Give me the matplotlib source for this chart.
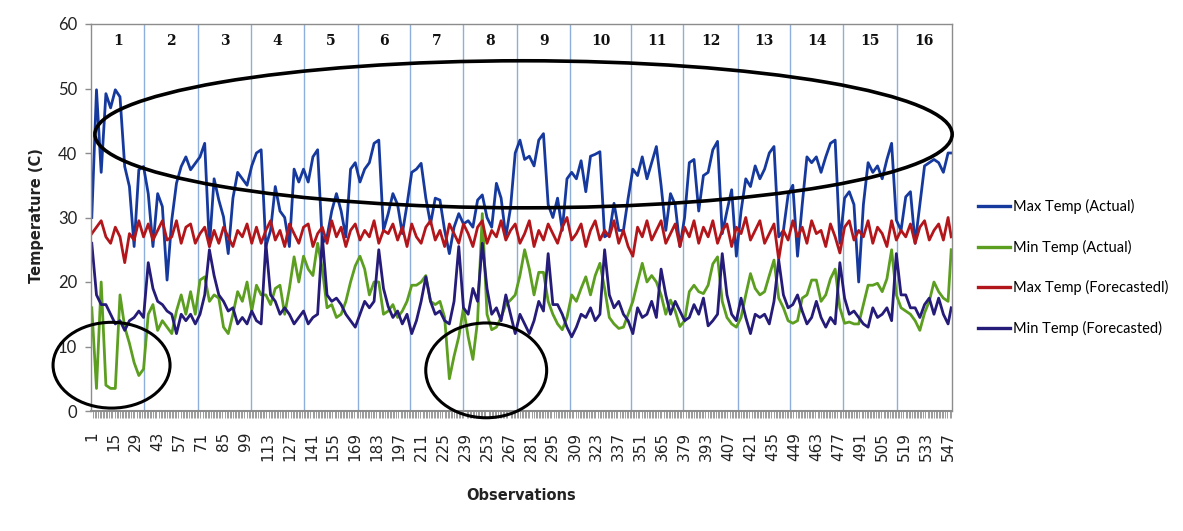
import numpy as np
import matplotlib
matplotlib.use("Agg")
import matplotlib.pyplot as plt
from matplotlib.patches import Ellipse
from matplotlib.lines import Line2D

obs = list(range(1, 548, 3)) + [549]

max_actual = [
    30, 49.8, 37, 49.2, 47, 49.8, 48.7, 37.9, 34.8, 25.5,
    37.4, 37.9, 33.7, 25.5, 33.7, 31.7, 20.3, 29.6, 35.3, 37.9,
    39.4, 37.4, 38.4, 39.4, 41.5, 25.5, 36, 32.7, 30.1, 24.4,
    33, 37, 36, 35, 38, 40, 40.5, 25.5, 28, 34.8,
    31, 30, 25.5, 37.5, 35.5, 37.5, 35.5, 39.4, 40.5, 26,
    27, 31, 33.7, 31, 27, 37.5, 38.5, 35.5, 37.5, 38.5,
    41.5, 42, 28, 30.6, 33.7, 32, 27.5, 32, 37, 37.5,
    38.4, 33, 29, 33, 32.7, 28, 24.4, 28.5, 30.6, 29,
    29.5, 28.5, 32.7, 33.5, 30, 28.5, 35.3, 33, 27, 31.5,
    40, 42, 39, 39.5, 38, 42, 43, 32, 30, 33,
    28, 36, 37, 36, 38.8, 34, 39.5, 39.8, 40.2, 27,
    27.5, 32.2, 28, 28, 33, 37.5, 36.5, 39.4, 36, 38.5,
    41, 35, 28, 33.7, 32, 25.5, 30, 38.5, 39, 31,
    36.5, 37, 40.5, 41.8, 27.5, 31, 34.3, 24, 31, 36,
    34.8, 38, 36, 37.5, 40, 41, 27, 28, 33.5, 35,
    24, 32, 39.4, 38.5, 39.4, 37, 39.4, 41.5, 42, 26,
    33, 34, 32, 20, 32, 38.5, 37, 38, 36, 39,
    41.5, 29.6, 28, 33.2, 34, 26, 32, 38, 38.5, 39,
    38.5, 37, 40, 40,
]

min_actual = [
    16, 3.5, 20, 4, 3.5, 3.5, 18, 13, 10.5, 7.5,
    5.5, 6.5, 15, 16.5, 12.5, 14, 13, 12, 15.5, 18,
    15, 18.5, 15, 20.3, 20.8, 17, 18, 17.5, 13, 12,
    15, 18.5, 17, 20, 15.5, 19.5, 18, 18, 16.5, 19,
    19.5, 15, 19, 23.9, 20, 24, 22, 21, 26, 22,
    16, 16.5, 14.5, 15, 17, 20, 22.5, 24, 22, 18,
    20, 20, 15, 15.5, 16.5, 14.5, 15.5, 17, 19.5, 19.5,
    20, 21, 17, 16.5, 17, 14.5, 5, 8.5, 11.5, 16,
    11.5, 8, 14, 30.6, 15, 12.6, 13, 14.5, 16.5, 17.2,
    18, 21, 25, 22, 18, 21.5, 21.5, 17, 15, 13.5,
    12.6, 14.5, 18, 17, 19, 20.8, 18, 21, 22.9, 19,
    14.5, 13.5, 12.8, 13, 15, 17, 20, 22.9, 20, 21,
    20, 18, 15, 17.2, 15.5, 13.1, 14, 18.5, 19.5, 18.5,
    18.2, 19.5, 22.8, 23.9, 17, 14.5, 13.5, 13, 14.5, 18,
    21.3, 19, 18, 18.5, 21, 23.4, 17.5, 16, 14, 13.6,
    14, 17.5, 18, 20.3, 20.3, 17, 18, 20.5, 22, 16,
    13.6, 13.8, 13.5, 13.5, 16.5, 19.5, 19.5, 19.8, 18.5, 20.5,
    25, 18, 16, 15.5, 15, 14, 12.5, 15.2, 17, 20,
    18.5, 17.5, 17, 25,
]

max_forecast = [
    27.5, 28.5, 29.5, 27, 26, 28.5, 27, 23, 27.5, 26.5,
    29.5, 27, 29, 26.5, 28, 29.5, 26.5, 27, 29.5, 26,
    28.5, 29, 26, 27.5, 28.5, 25.5, 28, 26, 28.5, 27,
    25.5, 28, 27, 29, 26, 28.5, 26, 28, 29.5, 26.5,
    28, 25.5, 29, 27.5, 26, 28.5, 29, 25.5, 27.5, 28.5,
    26, 29.5, 27, 28.5, 25.5, 28, 29, 26.5, 28, 27,
    29.5, 26, 28, 27.5, 29, 26.5, 28.5, 25.5, 29, 27,
    26, 28.5, 29.5, 26.5, 28, 25.5, 29, 27.5, 26, 29,
    27.5, 25.5, 28.5, 29.5, 26, 28, 27, 29.5, 26.5, 28,
    29, 26, 27.5, 29.5, 25.5, 28, 26.5, 29, 27.5, 26,
    28.5, 30, 26.5, 27.5, 29, 25.5, 28, 29.5, 26.5, 28,
    27, 29.5, 26, 28, 25.5, 24, 28.5, 27, 29.5, 26.5,
    28, 29.5, 26, 27.5, 29, 25.5, 28.5, 27, 29.5, 26,
    28.5, 27, 29.5, 26, 28, 29, 25.5, 28.5, 27.5, 30,
    26.5, 28, 29.5, 26, 27.5, 29, 23.5, 28, 26.5, 29.5,
    27, 28.5, 26, 29.5, 27.5, 28, 25.5, 29, 27, 24.5,
    28.5, 29.5, 26.5, 28, 27, 29.5, 26, 28.5, 27.5, 25.5,
    29.5, 26.5, 28, 27, 29, 26, 28.5, 29.5, 26.5, 28,
    29, 26.5, 30, 27,
]

min_forecast = [
    26, 18, 16.5, 16.5, 15, 13.5, 14, 12.5, 14, 14.5,
    15.5, 14.5, 23, 19, 17, 16.5, 15.5, 15, 12, 15,
    14, 15, 13.5, 15, 18, 25, 21, 18, 17, 15.5,
    16, 13.5, 14.5, 13.5, 15.5, 14, 13.5, 26, 18, 17,
    15, 16, 15, 13.5, 14.5, 15.5, 13.5, 14.5, 15, 27,
    18, 17, 17.5, 16.5, 15, 14, 13, 15, 17, 16,
    17, 25, 19, 16.2, 14.5, 15.5, 13.5, 15, 12, 14,
    17, 20.8, 17, 15, 15.5, 14, 13.5, 17, 25.5, 16,
    15, 19, 17, 26, 19, 15, 16, 14, 18, 15,
    12, 15, 13.5, 12, 14, 17, 15.5, 24.4, 16.5, 16.5,
    15, 13, 11.5, 13, 15, 14.5, 16, 14, 15, 25,
    18, 16, 17, 15, 14, 12, 16, 14.5, 15, 17,
    14.5, 22, 18, 15, 17, 15.5, 14, 14.5, 16.5, 15,
    17.5, 13.2, 14, 15, 24.4, 18, 15, 14, 17.5, 14.5,
    12, 15, 14.5, 15, 13.5, 17, 23.4, 18, 16, 16.5,
    18, 15.5, 13.5, 14.5, 17, 14.5, 13, 14.5, 13.5, 23,
    17.5, 15, 15.5, 14.5, 13.5, 13, 16, 14.5, 15, 16,
    14, 24.4, 18, 18, 16, 16, 14.5, 16.5, 17.5, 15,
    17.5, 15, 13.5, 16,
]

series_names = ["Max Temp (Actual)", "Min Temp (Actual)",
                "Max Temp (Forecastedl)", "Min Temp (Forecasted)"]
series_colors = ["#16399e", "#5c9e1f", "#b3161a", "#251b78"]

n_obs = 549
xtick_labels = list(range(1, n_obs + 1, 14))
segment_bounds = [34.5, 68.9, 102.3, 136.5, 170.6, 204, 238, 272.4, 306,
                  344.7, 378.2, 412.9, 446.3, 480.3, 514.3]
segment_labels = [str(i) for i in range(1, 17)]

# ---------------- figure ----------------
fig = plt.figure(figsize=(11.83, 5.31), dpi=100)
ax = fig.add_axes([91 / 1183, 1 - 411 / 531, (952 - 91) / 1183, (411 - 24) / 531])

ax.set_xlim(0.5, n_obs + 0.5)
ax.set_ylim(0, 60)

for b in segment_bounds:
    ax.axvline(b, color="#8eaedb", lw=1.0, zorder=1)

for data, name, col in zip([max_actual, min_actual, max_forecast, min_forecast],
                           series_names, series_colors):
    ax.plot(obs, data, color=col, lw=2.0, label=name, zorder=2,
            solid_joinstyle="round")

# segment numbers
edges = [0.5] + segment_bounds + [n_obs + 0.5]
for i, lab in enumerate(segment_labels):
    mid = (edges[i] + edges[i + 1]) / 2
    ax.text(mid, 57.4, lab, ha="center", va="center", fontsize=10,
            fontweight="bold", family="DejaVu Serif", color="#111111", zorder=3)

# ellipses
ax.add_patch(Ellipse((276.3, 42.9), 546.6, 22.8, fill=False, ec="black",
                     lw=2.6, clip_on=False, zorder=4))
ax.add_patch(Ellipse((13.6, 7.1), 74.6, 13.3, fill=False, ec="black",
                     lw=2.2, clip_on=False, zorder=4))
ax.add_patch(Ellipse((252.5, 6.3), 77.1, 14.7, fill=False, ec="black",
                     lw=2.2, clip_on=False, zorder=4))

# axes styling
for s in ["top", "right", "left"]:
    ax.spines[s].set_color("#8c8c8c")
    ax.spines[s].set_linewidth(1.0)
ax.spines["bottom"].set_color("#8c8c8c")
ax.spines["bottom"].set_linewidth(1.5)

ax.set_yticks(range(0, 61, 10))
ax.tick_params(axis="y", direction="out", length=4, width=1, color="#8c8c8c",
               labelsize=12, labelcolor="#222222", pad=6)
for t in ax.get_yticklabels():
    t.set_family("Lato")

ax.set_xticks(xtick_labels)
ax.set_xticklabels([str(v) for v in xtick_labels], rotation=90,
                   fontsize=11, color="#222222")
ax.set_xticks(np.arange(1, n_obs + 1), minor=True)
ax.tick_params(axis="x", which="major", direction="out", length=0, pad=15)
ax.tick_params(axis="x", which="minor", direction="out", length=5, width=0.6,
               color="#8c8c8c")

fig.text(521 / 1183, 1 - 495 / 531, "Observations", ha="center", va="center",
         fontsize=10.5, fontweight="bold", color="#222222")
fig.text(37 / 1183, 1 - 216 / 531, "Temperature (C)", ha="center", va="center",
         rotation=90, fontsize=10.5, fontweight="bold", color="#222222")

handles = [Line2D([0], [0], color=c, lw=2.4) for c in series_colors]
fig.legend(handles, series_names, loc="upper left",
           bbox_to_anchor=(978 / 1183, 1 - 199 / 531), frameon=False,
           borderpad=0, borderaxespad=0, handlelength=2.2, handletextpad=0.2,
           labelspacing=1.75, prop={"family": "Lato", "size": 10.5})

fig.savefig("out.png", dpi=100, facecolor="white")
